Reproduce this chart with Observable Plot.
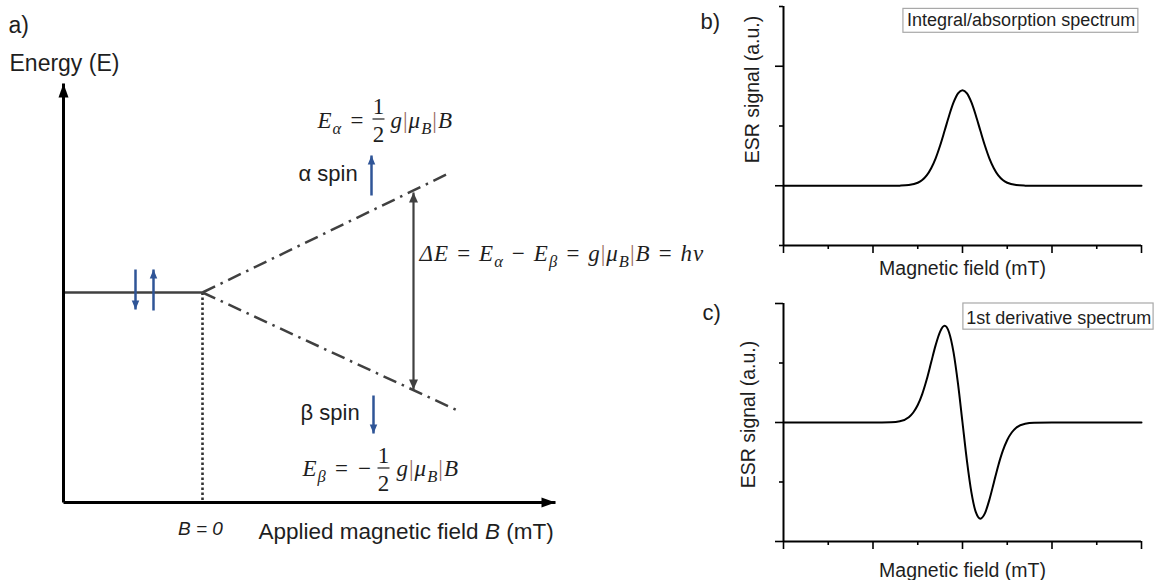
<!DOCTYPE html>
<html>
<head>
<meta charset="utf-8">
<script src="https://cdn.jsdelivr.net/npm/d3@7"></script>
<script src="https://cdn.jsdelivr.net/npm/@observablehq/plot@0.6"></script>
<style>
  body { margin: 0; background: #ffffff; }
  #wrap { position: relative; width: 1160px; height: 580px; overflow: hidden; background: #ffffff; }
  #wrap > svg { position: absolute; }
</style>
</head>
<body>
<div id="wrap"></div>
<script>
// ================= DATA =================
// Panel a: Zeeman energy-level diagram (arbitrary units: B = 0 at the zero-field point, E = 0 at the degenerate level)
const diagramAxes = [
  {axis: "E", B1: -1.39, E1: -2.10, B2: -1.39, E2: 2.09},
  {axis: "B", B1: -1.39, E1: -2.10, B2: 3.53, E2: -2.10}
];
const zeroFieldLevel = [{B1: -1.39, E1: 0, B2: 0, E2: 0}];
const zeroFieldMarker = [{B: 0, E1: 0, E2: -2.10}];
const zeemanLevels = [
  {spin: "α", B1: 0, E1: 0, B2: 2.46, E2: 1.19},
  {spin: "β", B1: 0, E1: 0, B2: 2.55, E2: -1.18}
];
const spinArrows = [
  {spin: "paired β", B: -0.67, E1: 0.23, E2: -0.17},
  {spin: "paired α", B: -0.49, E1: -0.18, E2: 0.23},
  {spin: "α", B: 1.69, E1: 0.97, E2: 1.37},
  {spin: "β", B: 1.71, E1: -1.03, E2: -1.41}
];
const resonanceGap = [{B: 2.11, Ebeta: -0.97, Ealpha: 1.00}];
const spinLabels = [
  {text: "α spin", B: 0.96, E: 1.12},
  {text: "β spin", B: 0.98, E: -1.27}
];
const fieldZeroLabel = [{text: "B = 0", B: 0, E: -2.39}];
const formulaLines = [
  {text: "E_{α} =", B: 1.15, E: 1.65},
  {text: "g|μ_{B}|B", B: 1.88, E: 1.65},
  {text: "ΔE = E_{α} − E_{β} = g|μ_{B}|B = hν", B: 2.17, E: 0.32},
  {text: "E_{β} = −", B: 1.00, E: -1.83},
  {text: "g|μ_{B}|B", B: 1.94, E: -1.83}
];
const fractionDigits = [
  {text: "1", B: 1.76, E: 1.79}, {text: "2", B: 1.76, E: 1.51},
  {text: "1", B: 1.81, E: -1.70}, {text: "2", B: 1.81, E: -1.98}
];
const fractionBars = [
  {B1: 1.70, B2: 1.82, E: 1.735},
  {B1: 1.75, B2: 1.87, E: -1.755}
];

// Panels b and c: ESR spectra (field in tick units 0–8, signal in a.u.)
const fieldTicksMajor = [0, 2, 4, 6, 8];
const fieldTicksMinor = [1, 3, 5, 7];

const fieldAbs = [0, 1, 2, 2.5, 2.6, 2.8, 3.0, 3.1, 3.2, 3.3, 3.4, 3.5, 3.6, 3.7, 3.8, 3.9, 4.0,
                  4.1, 4.2, 4.3, 4.4, 4.5, 4.6, 4.7, 4.8, 4.9, 5.0, 5.2, 5.4, 5.5, 6, 7, 8];
const absorption = [0, 0, 0, 0, 0.001, 0.006, 0.025, 0.048, 0.087, 0.147, 0.230, 0.337, 0.460, 0.586, 0.697, 0.773, 0.800,
                    0.773, 0.697, 0.586, 0.460, 0.337, 0.230, 0.147, 0.087, 0.048, 0.025, 0.006, 0.001, 0, 0, 0, 0];
const absTicksMajor = [0, 1];
const absTicksMinor = [-0.5, 0.5, 1.5];

const fieldDer = [0, 1, 2, 2.4, 2.6, 2.8, 2.9, 3.0, 3.1, 3.2, 3.3, 3.4, 3.5, 3.6, 3.7, 3.8, 3.9, 4.0,
                  4.1, 4.2, 4.3, 4.4, 4.5, 4.6, 4.7, 4.8, 4.9, 5.0, 5.1, 5.2, 5.4, 5.6, 6, 7, 8];
const derivative = [0, 0, 0, 0.002, 0.010, 0.044, 0.084, 0.147, 0.239, 0.361, 0.506, 0.650, 0.764, 0.812, 0.756, 0.589, 0.324, 0,
                    -0.324, -0.589, -0.756, -0.808, -0.764, -0.650, -0.506, -0.361, -0.239, -0.147, -0.084, -0.044, -0.010, -0.002, 0, 0, 0];
const derTicksMajor = [-1, 0, 1];
const derTicksMinor = [-0.5, 0.5];

const absorptionBox = [{label: "Integral/absorption spectrum", x1: 2.68, x2: 7.93, y1: 1.28, y2: 1.48, cx: 5.31, base: 1.333}];
const derivativeBox = [{label: "1st derivative spectrum", x1: 4.02, x2: 8.27, y1: 0.78, y2: 1.0, cx: 6.15, base: 0.83}];

// ================= STYLE =================
const sans = "Liberation Sans, Arial, Helvetica, sans-serif";
const serif = "Liberation Serif, 'Times New Roman', serif";
const ink = "#1e1e1e";
const levelInk = "#404040";
const spinBlue = "#2f5597";
const barBrown = "#9a6a62";

// filled arrowhead symbol with its tip at the anchor point
function head(len, width, angle) {
  const a = angle * Math.PI / 180, c = Math.cos(a), s = Math.sin(a);
  const pts = [[0, 0], [width / 2, len], [-width / 2, len]].map(([x, y]) => [x * c - y * s, x * s + y * c]);
  return {draw(ctx) { ctx.moveTo(pts[0][0], pts[0][1]); ctx.lineTo(pts[1][0], pts[1][1]); ctx.lineTo(pts[2][0], pts[2][1]); ctx.closePath(); }};
}

// ================= PANEL a =================
const up = d => d.E2 > d.E1;
const panelA = Plot.plot({
  width: 1160, height: 580, margin: 0,
  x: {domain: [-2.02, 9.58], axis: null},
  y: {domain: [-2.88, 2.92], axis: null},
  style: {fontFamily: sans, fontSize: "16px", background: "transparent", overflow: "visible"},
  marks: [
    // zero-field marker and levels
    Plot.link(zeroFieldMarker, {x1: "B", x2: "B", y1: "E1", y2: "E2", stroke: "#333", strokeWidth: 2.6, strokeDasharray: "2.5,2.5"}),
    Plot.link(zeroFieldLevel, {x1: "B1", y1: "E1", x2: "B2", y2: "E2", stroke: levelInk, strokeWidth: 2.5}),
    Plot.link(zeemanLevels, {x1: "B1", y1: "E1", x2: "B2", y2: "E2", stroke: levelInk, strokeWidth: 2.5, strokeDasharray: "14,6,2.5,6"}),
    // axes
    Plot.link(diagramAxes, {x1: "B1", y1: "E1", x2: "B2", y2: "E2", stroke: "#000", strokeWidth: 3}),
    Plot.dot(diagramAxes.filter(d => d.axis === "E"), {x: "B2", y: "E2", symbol: head(14, 10, 0), fill: "#000", stroke: "none"}),
    Plot.dot(diagramAxes.filter(d => d.axis === "B"), {x: "B2", y: "E2", symbol: head(14, 10, 90), fill: "#000", stroke: "none"}),
    // resonance gap double arrow
    Plot.link(resonanceGap, {x1: "B", x2: "B", y1: "Ebeta", y2: "Ealpha", stroke: levelInk, strokeWidth: 2.2}),
    Plot.dot(resonanceGap, {x: "B", y: "Ealpha", symbol: head(10, 9, 0), fill: levelInk, stroke: "none"}),
    Plot.dot(resonanceGap, {x: "B", y: "Ebeta", symbol: head(10, 9, 180), fill: levelInk, stroke: "none"}),
    // spin arrows
    Plot.link(spinArrows, {x1: "B", x2: "B", y1: "E1", y2: "E2", stroke: spinBlue, strokeWidth: 2.5}),
    Plot.dot(spinArrows.filter(up), {x: "B", y: "E2", symbol: head(9, 7.5, 0), fill: spinBlue, stroke: "none"}),
    Plot.dot(spinArrows.filter(d => !up(d)), {x: "B", y: "E2", symbol: head(9, 7.5, 180), fill: spinBlue, stroke: "none"}),
    // labels
    Plot.text(["a)"], {text: d => d, frameAnchor: "top-left", dx: 8, dy: 32, textAnchor: "start", lineAnchor: "bottom", fontSize: 23, fill: ink}),
    Plot.text(["Energy (E)"], {text: d => d, frameAnchor: "top-left", dx: 9, dy: 70, textAnchor: "start", lineAnchor: "bottom", fontSize: 23, fill: ink}),
    Plot.text(["Applied magnetic field *B* (mT)"], {text: d => d, frameAnchor: "top-left", dx: 258, dy: 538, textAnchor: "start", lineAnchor: "bottom", fontSize: 22.5, fill: ink}),
    Plot.text(spinLabels, {x: "B", y: "E", text: "text", textAnchor: "start", lineAnchor: "bottom", fontSize: 22, fill: ink}),
    Plot.text(fieldZeroLabel, {x: "B", y: "E", text: "text", textAnchor: "middle", lineAnchor: "bottom", fontSize: 19, fontStyle: "italic", fill: ink, dx: -2, dy: 3}),
    // formulas
    Plot.text(formulaLines, {x: "B", y: "E", text: "text", textAnchor: "start", lineAnchor: "bottom", fontSize: 23, fontFamily: serif, fontStyle: "italic", fill: ink}),
    Plot.text(fractionDigits, {x: "B", y: "E", text: "text", textAnchor: "middle", lineAnchor: "bottom", fontSize: 23, fontFamily: serif, fill: ink}),
    Plot.link(fractionBars, {x1: "B1", x2: "B2", y1: "E", y2: "E", stroke: ink, strokeWidth: 1.2})
  ]
});

// ================= PANELS b, c =================
function spectrumPanel(o) {
  const pts = o.field.map((x, i) => ({x, y: o.signal[i]}));
  const tickOpts = {tickFormat: () => "", label: null, stroke: "#000", strokeWidth: 1.6};
  return Plot.plot({
    width: 470, height: 290,
    marginLeft: 93, marginRight: 19, marginTop: o.marginTop, marginBottom: o.marginBottom,
    x: {domain: [0, 8], axis: null},
    y: {domain: o.yDomain, axis: null},
    style: {fontFamily: sans, fontSize: "16px", background: "transparent", overflow: "visible"},
    marks: [
      Plot.rect(o.box, {x1: "x1", x2: "x2", y1: "y1", y2: "y2", fill: "#fff", stroke: "#a8a8a8", strokeWidth: 1.2}),
      Plot.text(o.box, {x: "cx", y: "base", text: "label", textAnchor: "middle", lineAnchor: "bottom", fontSize: 18, fill: ink}),
      Plot.axisX(fieldTicksMajor, {...tickOpts, anchor: "bottom", tickSize: 8}),
      Plot.axisX(fieldTicksMinor, {...tickOpts, anchor: "bottom", tickSize: 4}),
      Plot.axisY(o.yMajor, {...tickOpts, anchor: "left", tickSize: 8}),
      Plot.axisY(o.yMinor, {...tickOpts, anchor: "left", tickSize: 4}),
      Plot.ruleX([0], {stroke: "#000", strokeWidth: 2}),
      Plot.ruleY([o.yDomain[0]], {stroke: "#000", strokeWidth: 2}),
      Plot.line(pts, {x: "x", y: "y", curve: "monotone-x", stroke: "#000", strokeWidth: 2}),
      Plot.text([o.letter], {text: d => d, frameAnchor: "top-left", dx: o.letterDx, dy: o.letterDy, textAnchor: "start", lineAnchor: "bottom", fontSize: 22, fill: ink}),
      Plot.text(["ESR signal (a.u.)"], {text: d => d, frameAnchor: "left", rotate: -90, dx: o.yLabelDx, dy: o.yLabelDy, textAnchor: "middle", lineAnchor: "middle", fontSize: 19.5, fill: ink}),
      Plot.text(["Magnetic field (mT)"], {text: d => d, frameAnchor: "bottom", dy: o.xLabelDy, textAnchor: "middle", lineAnchor: "bottom", fontSize: 19.5, fill: ink})
    ]
  });
}

const panelB = spectrumPanel({
  field: fieldAbs, signal: absorption, yDomain: [-0.5, 1.5], yMajor: absTicksMajor, yMinor: absTicksMinor,
  marginTop: 6, marginBottom: 45, letter: "b)", letterDx: -83, letterDy: 22,
  yLabelDx: -31, yLabelDy: -36.5, xLabelDy: 29, box: absorptionBox
});
const panelC = spectrumPanel({
  field: fieldDer, signal: derivative, yDomain: [-1, 1], yMajor: derTicksMajor, yMinor: derTicksMinor,
  marginTop: 13, marginBottom: 39, letter: "c)", letterDx: -81, letterDy: 16,
  yLabelDx: -35, yLabelDy: -8, xLabelDy: 35, box: derivativeBox
});

const wrap = document.getElementById("wrap");
[[panelA, 0, 0], [panelB, 690, 0], [panelC, 690, 290]].forEach(([svg, left, top]) => {
  svg.style.left = left + "px";
  svg.style.top = top + "px";
  wrap.appendChild(svg);
});

// wider math-style spacing for the formula texts
wrap.querySelectorAll("g[font-style='italic'][font-family]").forEach(g => {
  if (g.getAttribute("font-family").includes("Serif")) g.style.letterSpacing = "1px";
});

// ---- rich-text markup: _{sub}, | (coloured bar), *italic* ----
const NS = "http://www.w3.org/2000/svg";
wrap.querySelectorAll("text").forEach(t => {
  const s = t.textContent;
  if (!/_\{|\||\*/.test(s)) return;
  const g = t.closest("[font-size]");
  const fs = g ? parseFloat(g.getAttribute("font-size")) : 16;
  const parts = s.split(/(_\{[^}]*\}|\||\*[^*]*\*)/).filter(p => p !== "");
  while (t.firstChild) t.removeChild(t.firstChild);
  let shift = 0;
  for (const p of parts) {
    const ts = document.createElementNS(NS, "tspan");
    if (p.startsWith("_{")) {
      ts.textContent = p.slice(2, -1);
      ts.setAttribute("font-size", (fs * 0.72).toFixed(2));
      ts.setAttribute("dy", (fs * 0.3 - shift).toFixed(2));
      shift = fs * 0.3;
    } else {
      if (p === "|") {
        ts.textContent = "|";
        ts.setAttribute("fill", barBrown);
        ts.setAttribute("font-style", "normal");
      } else if (p.startsWith("*")) {
        ts.textContent = p.slice(1, -1);
        ts.setAttribute("font-style", "italic");
      } else {
        ts.textContent = p;
      }
      if (shift) { ts.setAttribute("dy", (-shift).toFixed(2)); shift = 0; }
    }
    t.appendChild(ts);
  }
});
</script>
</body>
</html>
